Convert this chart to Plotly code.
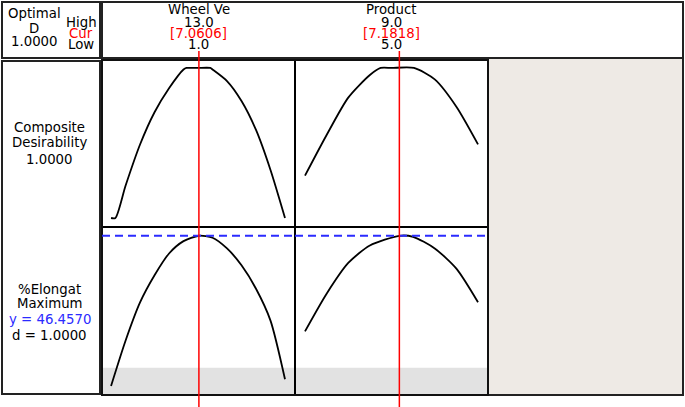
import plotly.graph_objects as go

# ---------------- data ----------------
factor_names = ["Wheel Ve", "Product"]
factor_high = ["13.0", "9.0"]
factor_low = ["1.0", "5.0"]
factor_cur = [7.0606, 7.1818]

# Composite desirability vs Wheel Ve
wheel_x_d = [1.0, 1.3, 2, 3, 4, 5, 6, 6.2, 7, 7.85, 8, 9, 10, 11, 12, 13]
wheel_d = [0, 0, 0.215, 0.49, 0.705, 0.865, 0.99, 1, 1, 1, 0.99, 0.913, 0.78, 0.587, 0.32, 0]
# Composite desirability vs Product
prod_x_d = [5, 5.5, 6, 6.5, 6.75, 7, 7.52, 8, 8.5, 9]
prod_d = [0.282, 0.553, 0.802, 0.953, 1, 1, 1, 0.924, 0.742, 0.491]

# %Elongat response vs Wheel Ve
wheel_x_y = [1, 2, 3, 4, 5, 6, 7.0606, 8, 9, 10, 11, 12, 13]
wheel_y = [27.74, 33.38, 38.15, 41.53, 44.25, 45.79, 46.457, 46.21, 44.88, 42.78, 39.86, 35.89, 28.58]
# %Elongat response vs Product
prod_x_y = [5, 5.5, 6, 6.5, 7.1818, 7.5, 8, 8.5, 9]
prod_y = [34.55, 39.24, 43.07, 45.25, 46.457, 46.33, 44.88, 42.37, 38.18]

y_opt = 46.457
lower_bound = 30.0
composite_d = "1.0000"

# ---------------- layout helpers ----------------
W, H = 685, 407
def PX(x):
    return x / W
def PY(y):
    return 1 - y / H

BLACK = "#000000"
RED = "#FF0000"
BLUE = "#2B2BFF"
FONT = "DejaVu Sans"
FS = 13.3

fig = go.Figure()

curve = dict(color=BLACK, width=1.8, shape="spline", smoothing=0.7)
fig.add_trace(go.Scatter(x=wheel_x_d, y=wheel_d, mode="lines", line=curve, xaxis="x", yaxis="y", hoverinfo="skip"))
fig.add_trace(go.Scatter(x=prod_x_d, y=prod_d, mode="lines", line=curve, xaxis="x2", yaxis="y2", hoverinfo="skip"))
fig.add_trace(go.Scatter(x=wheel_x_y, y=wheel_y, mode="lines", line=curve, xaxis="x3", yaxis="y3", hoverinfo="skip"))
fig.add_trace(go.Scatter(x=prod_x_y, y=prod_y, mode="lines", line=curve, xaxis="x4", yaxis="y4", hoverinfo="skip"))

col_dom = [[PX(102), PX(295)], [PX(295), PX(488)]]
row_dom = [[PY(227), PY(60)], [PY(395), PY(227)]]
xr = [[0.376, 13.69], [4.769, 9.231]]
yr_d = [-0.06, 1.053]
yr_y = [26.62, 47.55]

ax_common = dict(showgrid=False, zeroline=False, showticklabels=False, ticks="",
                 showline=True, mirror=True, linecolor=BLACK, linewidth=1, fixedrange=True)

lay = {}
names = [("xaxis", "yaxis", 0, 0, yr_d), ("xaxis2", "yaxis2", 1, 0, yr_d),
         ("xaxis3", "yaxis3", 0, 1, yr_y), ("xaxis4", "yaxis4", 1, 1, yr_y)]
for i, (xa, ya, c, r, yr) in enumerate(names):
    sfx = "" if i == 0 else str(i + 1)
    lay[xa] = dict(domain=col_dom[c], range=xr[c], anchor="y" + sfx, **ax_common)
    lay[ya] = dict(domain=row_dom[r], range=yr, anchor="x" + sfx, **ax_common)

shapes = []
# boxes
box = dict(type="rect", xref="paper", yref="paper", line=dict(color="#222222", width=2))
shapes.append(dict(box, x0=PX(2), x1=PX(100), y0=PY(58), y1=PY(2)))
shapes.append(dict(box, x0=PX(102), x1=PX(683), y0=PY(58), y1=PY(2)))
shapes.append(dict(box, x0=PX(2), x1=PX(100), y0=PY(394), y1=PY(61)))
shapes.append(dict(box, x0=PX(488), x1=PX(683), y0=PY(395), y1=PY(58), fillcolor="#EEEAE5", layer="below"))
# outer frame of the plot grid
shapes.append(dict(type="rect", xref="paper", yref="paper", x0=PX(102), x1=PX(488), y0=PY(395), y1=PY(60),
                   line=dict(color="#111111", width=2)))
# shaded region below lower bound in response row
for xa, ya in [("x3", "y3"), ("x4", "y4")]:
    shapes.append(dict(type="rect", xref=xa + " domain", yref=ya, x0=0, x1=1, y0=yr_y[0], y1=lower_bound,
                       fillcolor="#E2E2E2", line=dict(width=0), layer="below"))
    shapes.append(dict(type="line", xref=xa + " domain", yref=ya, x0=0, x1=1, y0=y_opt, y1=y_opt,
                       line=dict(color=BLUE, width=2, dash="8px,5px")))
# current-setting red lines
for xa, cur in [("x", factor_cur[0]), ("x2", factor_cur[1])]:
    shapes.append(dict(type="line", xref=xa, yref="paper", x0=cur, x1=cur, y0=0, y1=PY(51),
                       line=dict(color=RED, width=1.5)))

ann = []
def txt(x, y, s, color=BLACK, size=FS):
    ann.append(dict(x=PX(x), y=PY(y), xref="paper", yref="paper", text=s, showarrow=False,
                    xanchor="center", yanchor="middle", font=dict(family=FONT, size=size, color=color)))

txt(34, 14, "Optimal")
txt(34, 28, "D")
txt(34, 42, composite_d)
txt(81, 22, "High")
txt(81, 33, "Cur", RED)
txt(81, 45, "Low")

centers = [198.5, 391.5]
for i in range(2):
    cx = centers[i]
    txt(cx, 9, factor_names[i])
    txt(cx, 22, factor_high[i])
    txt(cx, 33, "[%.4f]" % factor_cur[i], RED)
    txt(cx, 44, factor_low[i])

txt(50, 128, "Composite")
txt(50, 143, "Desirability")
txt(50, 159, composite_d)
txt(50, 289, "%Elongat")
txt(50, 303, "Maximum")
txt(50, 319, "y = %.4f" % y_opt, BLUE)
txt(50, 335, "d = 1.0000")

fig.update_layout(width=W, height=H, margin=dict(l=0, r=0, t=0, b=0),
                  paper_bgcolor="white", plot_bgcolor="white", showlegend=False,
                  shapes=shapes, annotations=ann, **lay)

fig.write_html("out.html", config={"displayModeBar": False},
               post_script="document.body.style.margin='0px';document.body.style.overflow='hidden';")
